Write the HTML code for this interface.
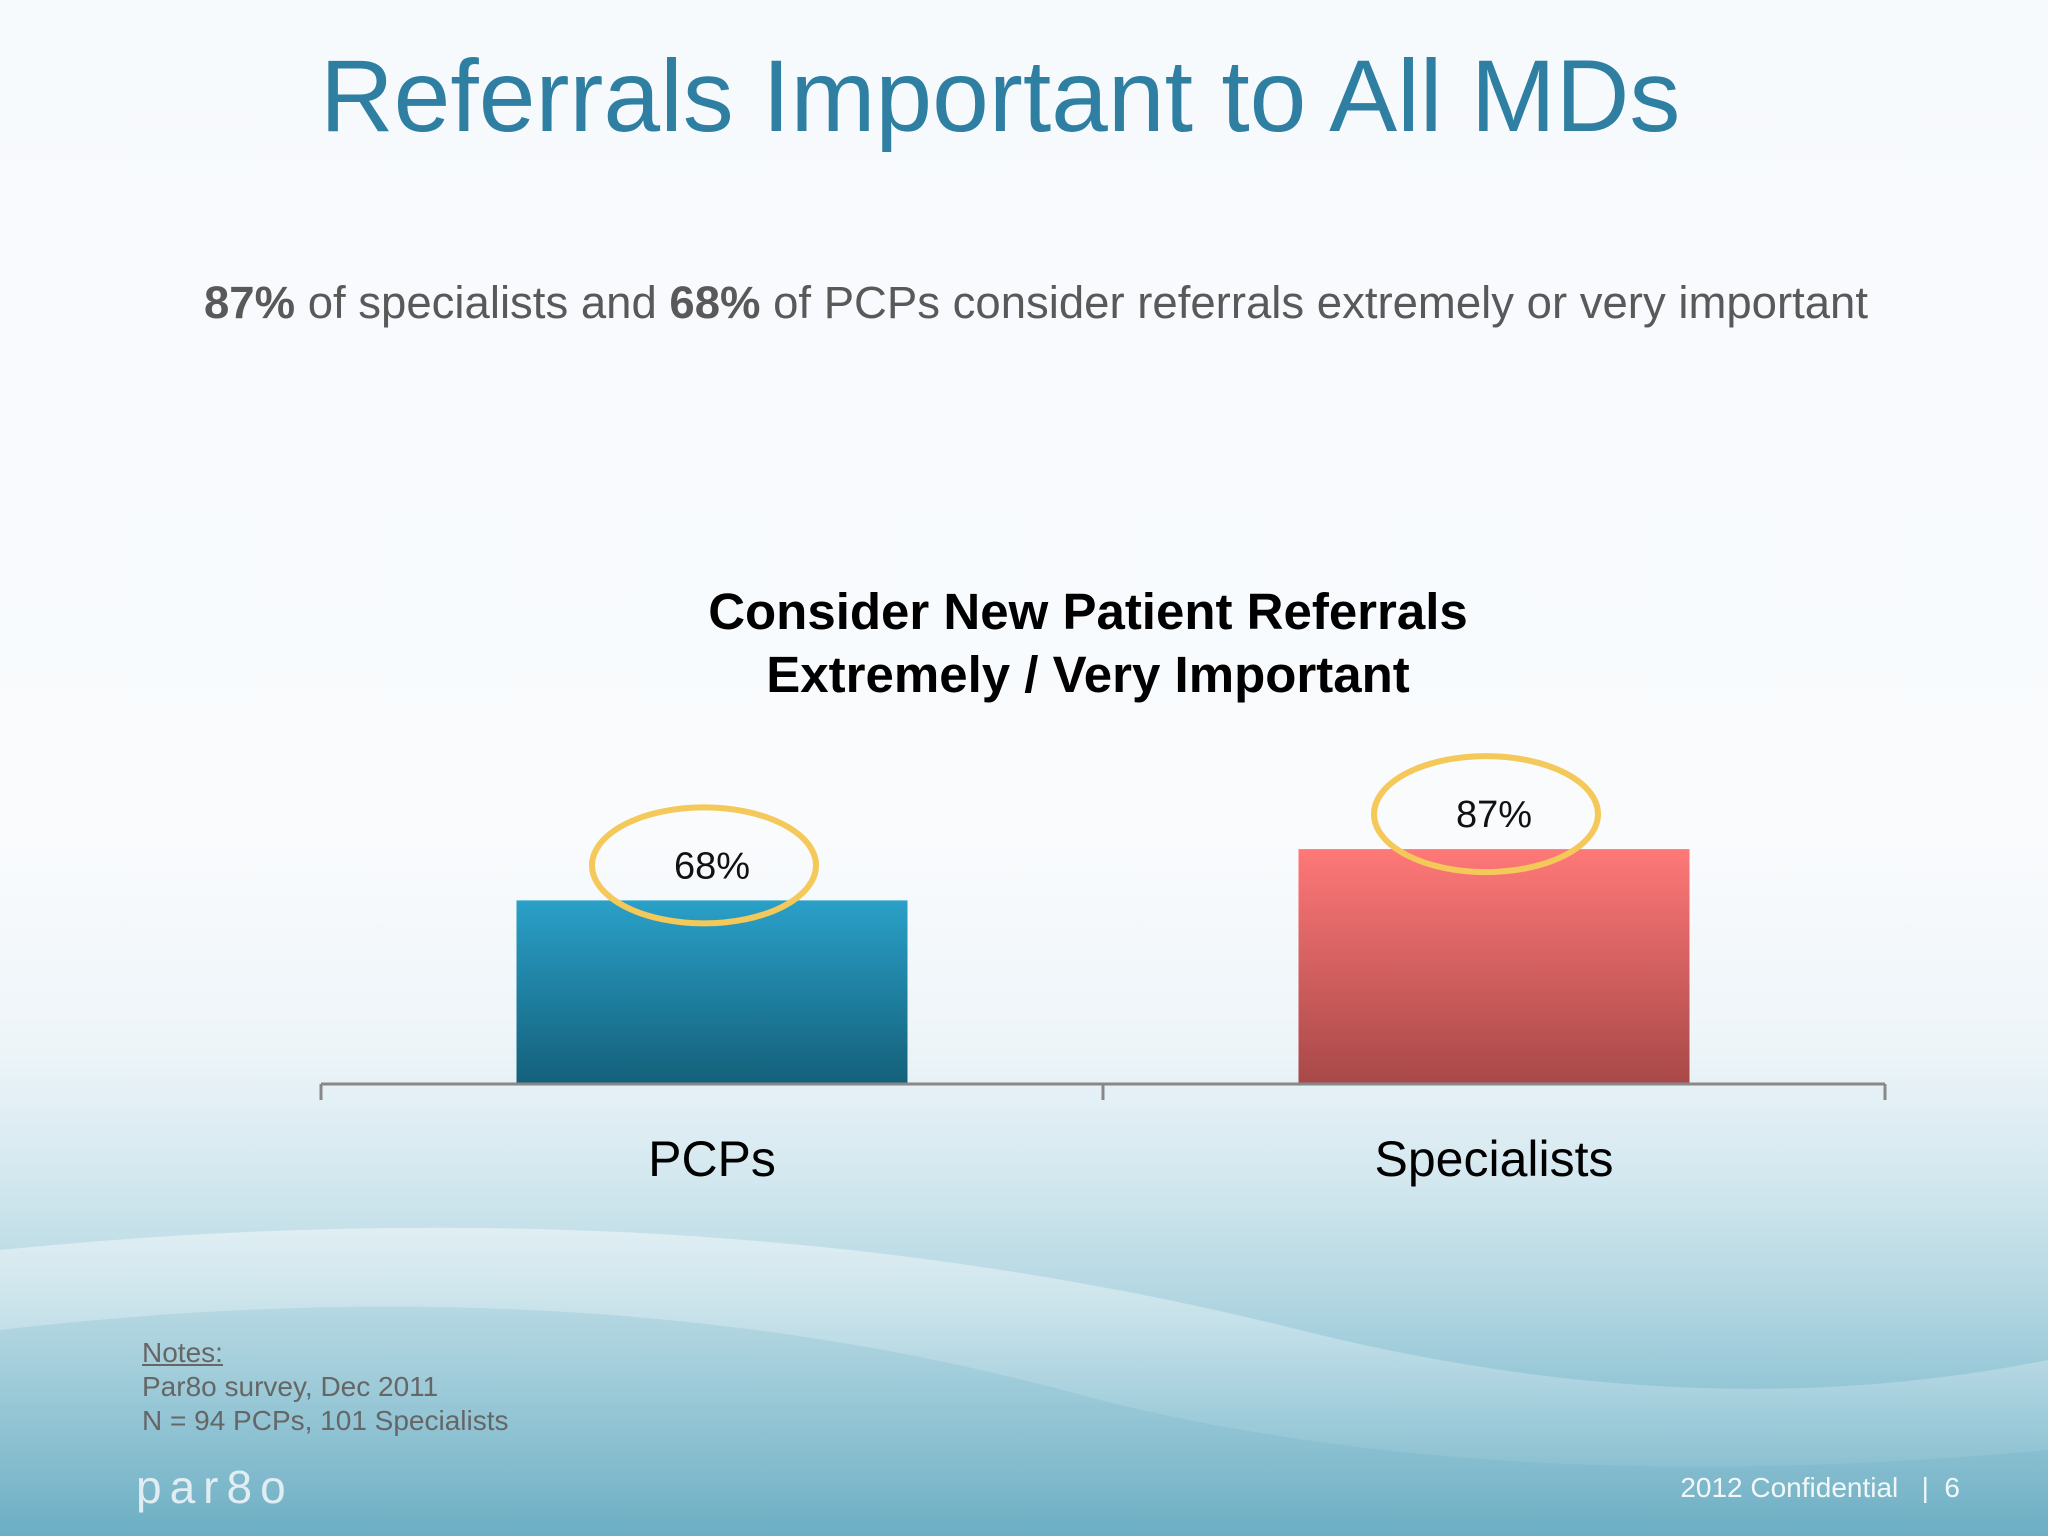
<!DOCTYPE html>
<html><head><meta charset="utf-8"><style>
html,body{margin:0;padding:0}
body{width:2048px;height:1536px;position:relative;overflow:hidden;font-family:"Liberation Sans",Arial,sans-serif;
background:linear-gradient(180deg,#f7fafd 0%,#f9fbfd 55%,#eef5f9 68%,#d6e9f0 76%,#b5d8e3 84%,#8cc2d3 92%,#6fb0c5 100%);}
.abs{position:absolute;white-space:nowrap}
</style></head><body>
<svg class="abs" style="left:0;top:0" width="2048" height="1536">
<defs>
<linearGradient id="w1" x1="0" y1="0" x2="0" y2="1"><stop offset="0" stop-color="#ffffff" stop-opacity="0.45"/><stop offset="1" stop-color="#ffffff" stop-opacity="0"/></linearGradient>
<linearGradient id="bPCP" x1="0" y1="0" x2="0" y2="1"><stop offset="0" stop-color="#2aa0c8"/><stop offset="1" stop-color="#14607a"/></linearGradient>
<linearGradient id="bSp" x1="0" y1="0" x2="0" y2="1"><stop offset="0" stop-color="#ff7878"/><stop offset="1" stop-color="#a84848"/></linearGradient>
</defs>
<path d="M0 1250 Q700 1180 1300 1330 Q1700 1430 2048 1360 L2048 1536 L0 1536Z" fill="url(#w1)"/>
<path d="M0 1330 Q600 1260 1100 1400 Q1500 1500 2048 1450 L2048 1536 L0 1536Z" fill="#5fa8bf" fill-opacity="0.18"/>
</svg>
<div class="abs" style="left:320px;top:38px;font-size:102px;color:#2e7fa2">Referrals Important to All MDs</div>
<div class="abs" style="left:204px;top:277px;font-size:45.5px;color:#595959"><b>87%</b> of specialists and <b>68%</b> of PCPs consider referrals extremely or very important</div>
<div class="abs" style="left:588px;width:1000px;top:580px;text-align:center;font-size:51px;font-weight:bold;color:#000;line-height:63px">Consider New Patient Referrals<br>Extremely / Very Important</div>
<svg class="abs" style="left:0;top:0" width="2048" height="1536" id="chart"></svg>
<div class="abs" style="left:142px;top:1336px;font-size:28px;color:#666;line-height:34px"><u>Notes:</u><br>Par8o survey, Dec 2011<br>N = 94 PCPs, 101 Specialists</div>
<div class="abs" style="left:136px;top:1460px;font-size:46px;color:#e0edf2;letter-spacing:8px">par8o</div>
<div class="abs" style="right:88px;top:1472px;font-size:28px;color:#f2f8fa">2012 Confidential &nbsp;&nbsp;|&nbsp; 6</div>
<script>
const categories=["PCPs","Specialists"];
const values=[68,87];
const labels=["68%","87%"];
const fills=["url(#bPCP)","url(#bSp)"];
const svg=document.getElementById('chart');
const NS="http://www.w3.org/2000/svg";
const x0=321,x1=1885,base=1084,pxPer=2.7;
const band=(x1-x0)/categories.length;
const bw=391;
function xc(i){return x0+band*(i+0.5);}
function y(v){return base-v*pxPer;}
function mk(t,a){const e=document.createElementNS(NS,t);for(const k in a)e.setAttribute(k,a[k]);svg.appendChild(e);return e;}
categories.forEach((c,i)=>{
 const r=mk('rect',{x:xc(i)-bw/2,y:y(values[i]),width:bw,height:base-y(values[i]),fill:fills[i]});
 
 
 const t=mk('text',{x:xc(i),y:y(values[i])-22,'text-anchor':'middle','font-size':38,fill:'#111','font-family':'Liberation Sans, sans-serif'});
 t.textContent=labels[i];
 
 
 const el=mk('ellipse',{cx:xc(i)-8,cy:y(values[i])-35,rx:112,ry:58,fill:'none',stroke:'#f5c85a','stroke-width':6});
 
 
 const cl=mk('text',{x:xc(i),y:1176,'text-anchor':'middle','font-size':50,fill:'#000','font-family':'Liberation Sans, sans-serif'});
 cl.textContent=c;
 
 
});
const ax=mk('line',{x1:x0,y1:base,x2:x1,y2:base,stroke:'#888','stroke-width':3});


for(let i=0;i<=categories.length;i++){
 const tk=mk('line',{x1:x0+band*i,y1:base,x2:x0+band*i,y2:base+16,stroke:'#888','stroke-width':3});
 
 
}
</script>
</body></html>
